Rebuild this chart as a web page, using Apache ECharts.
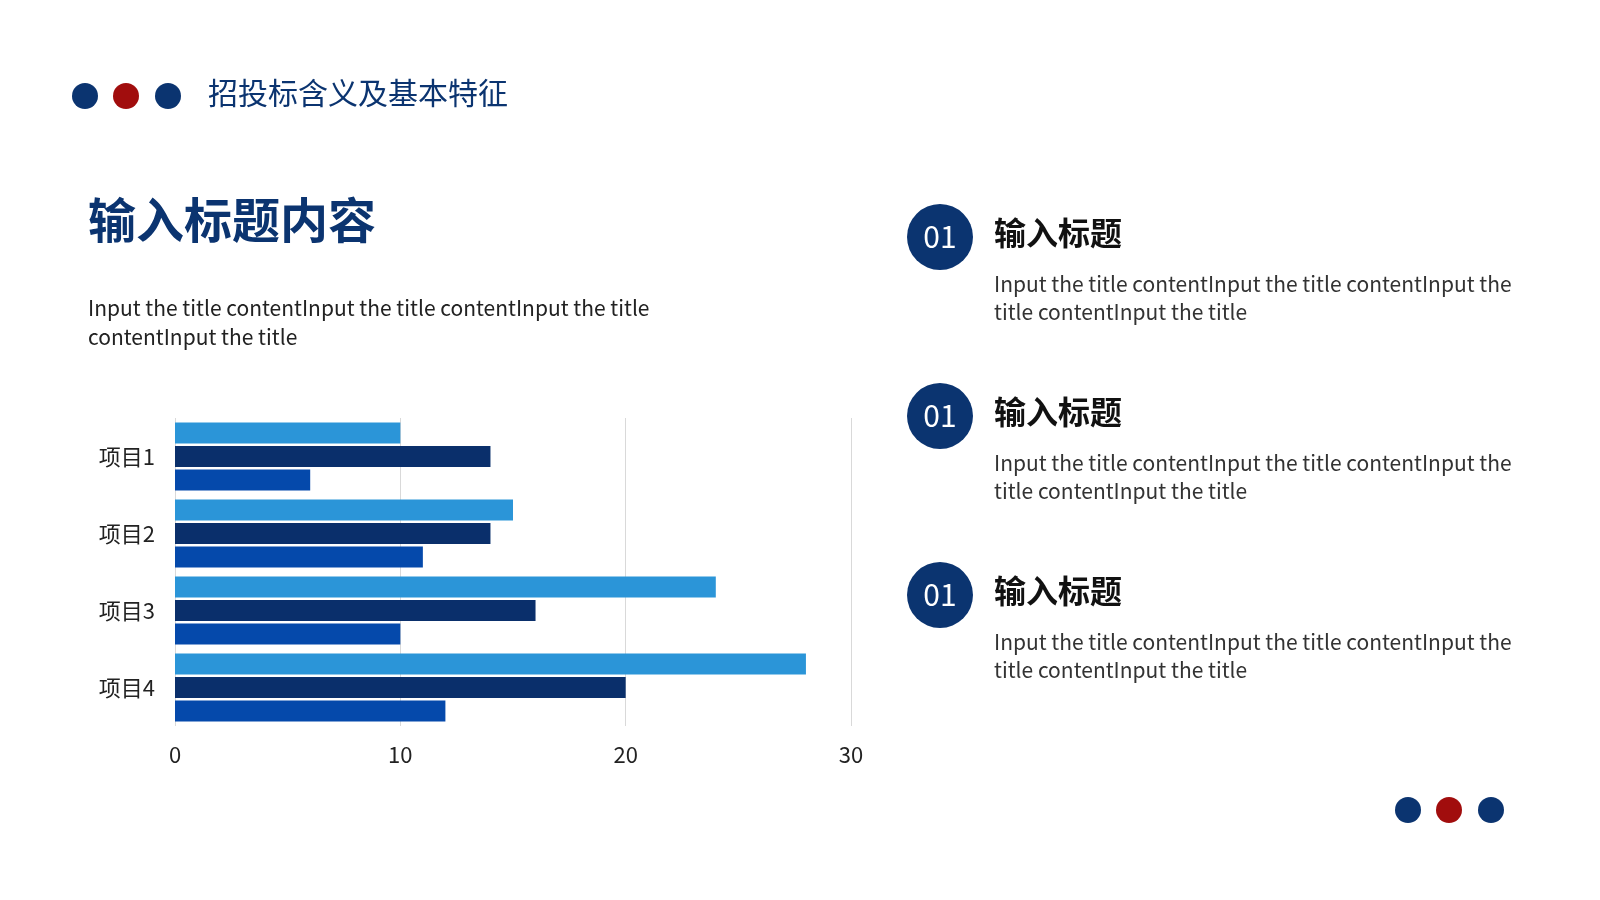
<!DOCTYPE html>
<html>
<head>
<meta charset="utf-8">
<title>招投标含义及基本特征</title>
<script src="https://cdn.jsdelivr.net/npm/echarts@6/dist/echarts.min.js"></script>
<style>
  html, body { margin: 0; padding: 0; background: #fff; }
  #main { width: 1600px; height: 900px; }
</style>
</head>
<body>
<div id="main"></div>
<script type="text/javascript">
// 数据
var categories = ['项目1', '项目2', '项目3', '项目4'];
var seriesA = [10, 15, 24, 28];
var seriesB = [14, 14, 16, 20];
var seriesC = [6, 11, 10, 12];
var xTicks = [0, 10, 20, 30];

var navy = '#0b3470';
var red = '#a10d0d';
var font = '"Noto Sans CJK SC", "Noto Sans", sans-serif';
var bodyText = 'Input the title contentInput the title contentInput the\ntitle contentInput the title';

var myChart = echarts.init(document.getElementById('main'));

var graphics = [];
// 左上圆点和标题
[[85, navy], [126, red], [168, navy]].forEach(function (d) {
  graphics.push({ type: 'circle', shape: { cx: d[0], cy: 96, r: 13 }, style: { fill: d[1] } });
});
graphics.push({ type: 'text', left: 208, top: 78, style: { text: '招投标含义及基本特征', fill: navy, font: '30px ' + font } });
graphics.push({ type: 'text', left: 88, top: 196, style: { text: '输入标题内容', fill: navy, font: 'bold 48px ' + font } });
graphics.push({ type: 'text', left: 88, top: 294, style: { text: 'Input the title contentInput the title contentInput the title\ncontentInput the title', fill: '#222', font: '21px ' + font, lineHeight: 29 } });

// 右侧三个条目
[237, 416, 595].forEach(function (cy) {
  graphics.push({ type: 'circle', shape: { cx: 940, cy: cy, r: 33 }, style: { fill: navy } });
  graphics.push({ type: 'text', x: 940, y: cy, style: { text: '01', fill: '#fff', font: '30px ' + font, align: 'center', verticalAlign: 'middle' } });
  graphics.push({ type: 'text', left: 994, top: cy - 20, style: { text: '输入标题', fill: '#111', font: 'bold 32px ' + font } });
  graphics.push({ type: 'text', left: 994, top: cy + 33, style: { text: bodyText, fill: '#333', font: '21px ' + font, lineHeight: 28 } });
});

// 右下圆点
[[1408, navy], [1449, red], [1491, navy]].forEach(function (d) {
  graphics.push({ type: 'circle', shape: { cx: d[0], cy: 810, r: 13 }, style: { fill: d[1] } });
});

var option = {
  backgroundColor: '#fff',
  graphic: graphics,
  grid: { left: 175, top: 418, width: 676, height: 308 },
  xAxis: {
    type: 'value',
    min: xTicks[0],
    max: xTicks[xTicks.length - 1],
    interval: 10,
    axisLine: { show: false },
    axisTick: { show: false },
    axisLabel: { color: '#222', fontSize: 22, fontFamily: font, margin: 18 },
    splitLine: { lineStyle: { color: '#d9d9d9' } }
  },
  yAxis: {
    type: 'category',
    data: categories,
    inverse: true,
    axisLine: { show: false },
    axisTick: { show: false },
    axisLabel: { color: '#222', fontSize: 22, fontFamily: font, margin: 20 }
  },
  series: [
    { type: 'bar', data: seriesA, barWidth: 21, barGap: '12%', itemStyle: { color: '#2b95d8' } },
    { type: 'bar', data: seriesB, barWidth: 21, barGap: '12%', itemStyle: { color: '#0a2f6b' } },
    { type: 'bar', data: seriesC, barWidth: 21, barGap: '12%', itemStyle: { color: '#0549ab' } }
  ]
};

myChart.setOption(option);
</script>
</body>
</html>
